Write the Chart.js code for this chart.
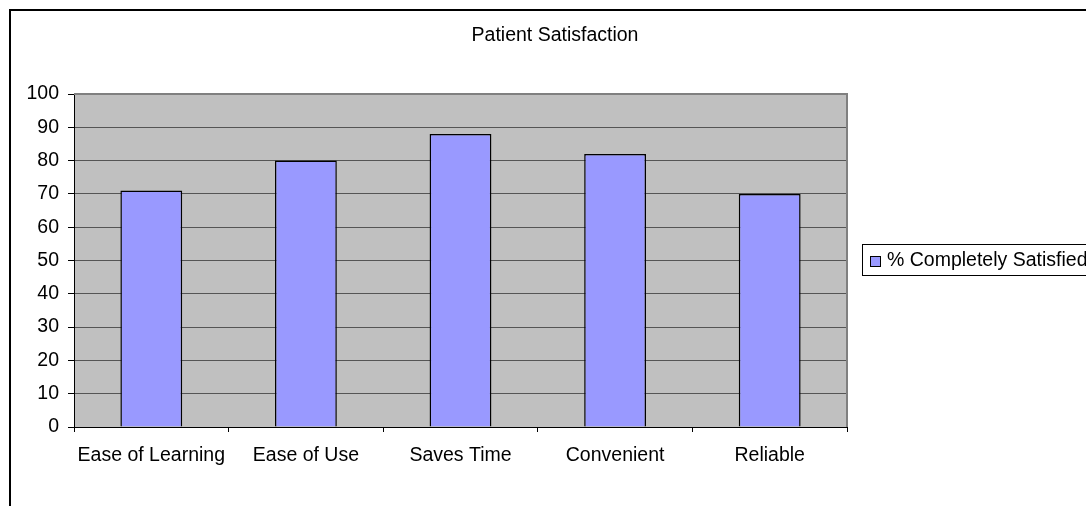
<!DOCTYPE html>
<html>
<head>
<meta charset="utf-8">
<script src="https://cdn.jsdelivr.net/npm/chart.js@4.4.0/dist/chart.umd.min.js"></script>
<style>
  html, body { margin: 0; padding: 0; background: #fff; overflow: hidden; }
  #wrap { width: 1086px; height: 506px; overflow: hidden; }
</style>
</head>
<body>
<div id="wrap"><canvas id="chart" width="1110" height="520"></canvas></div>
<script>
const categories = ['Ease of Learning', 'Ease of Use', 'Saves Time', 'Convenient', 'Reliable'];
const satisfied = [71, 80, 88, 82, 70];
const seriesLabel = '% Completely Satisfied';
const chartTitle = 'Patient Satisfaction';

const FONT = '"Liberation Sans", Arial, sans-serif';
const SIZE = 19.5;

// white page, grey plot area and the outer frame
const frame = {
    id: 'frame',
    beforeDraw(chart) {
        const { ctx, chartArea: a } = chart;
        ctx.save();
        ctx.fillStyle = '#fff';
        ctx.fillRect(0, 0, chart.width, chart.height);
        ctx.fillStyle = '#C0C0C0';
        ctx.fillRect(a.left, a.top, a.right - a.left, a.bottom - a.top);
        ctx.strokeStyle = '#000';
        ctx.lineWidth = 2;
        ctx.strokeRect(10, 10, 1090, 600);
        ctx.restore();
    },
    afterDatasetsDraw(chart) {
        const { ctx, chartArea: a } = chart;
        ctx.save();
        ctx.strokeStyle = '#808080';
        ctx.lineWidth = 2;
        ctx.beginPath();
        ctx.moveTo(a.left, a.top);
        ctx.lineTo(a.right, a.top);
        ctx.lineTo(a.right, a.bottom);
        ctx.stroke();
        ctx.restore();
    }
};

// Excel-style boxed legend on the right
const boxLegend = {
    id: 'boxLegend',
    afterDraw(chart) {
        const { ctx } = chart;
        const ds = chart.data.datasets[0];
        ctx.save();
        ctx.strokeStyle = '#000';
        ctx.lineWidth = 1;
        ctx.strokeRect(862.5, 244.5, 400, 31);
        ctx.fillStyle = ds.backgroundColor;
        ctx.fillRect(870.5, 256.5, 10, 10);
        ctx.strokeRect(870.5, 256.5, 10, 10);
        ctx.fillStyle = '#000';
        ctx.font = SIZE + 'px ' + FONT;
        ctx.textBaseline = 'middle';
        ctx.fillText(ds.label, 887, 261);
        ctx.restore();
    }
};

new Chart(document.getElementById('chart'), {
    type: 'bar',
    data: {
        labels: categories,
        datasets: [{
            label: seriesLabel,
            data: satisfied,
            backgroundColor: '#9999FF',
            borderColor: '#000',
            borderWidth: 1.5,
            categoryPercentage: 0.4,
            barPercentage: 1
        }]
    },
    options: {
        responsive: false,
        animation: false,
        layout: { padding: 0 },
        plugins: {
            legend: { display: false },
            tooltip: { enabled: false },
            title: {
                display: true,
                text: chartTitle,
                color: '#000',
                font: { family: FONT, size: SIZE, weight: 'normal' },
                padding: { top: 23.8, bottom: 46.8 }
            }
        },
        scales: {
            x: {
                afterFit(scale) { scale.height = 93; },
                grid: {
                    offset: true,
                    drawOnChartArea: false,
                    tickLength: 5,
                    tickColor: '#000'
                },
                border: { color: '#000', width: 1 },
                ticks: {
                    color: '#000',
                    padding: 12,
                    maxRotation: 0,
                    font: { family: FONT, size: SIZE }
                }
            },
            y: {
                min: 0,
                max: 100,
                afterFit(scale) { scale.width = 74; },
                grid: {
                    color: '#555',
                    tickColor: '#000',
                    tickLength: 6
                },
                border: { color: '#000', width: 1 },
                ticks: {
                    stepSize: 10,
                    color: '#000',
                    padding: 9,
                    font: { family: FONT, size: SIZE }
                }
            },
            // empty axis that reserves the space where the legend sits
            side: {
                type: 'linear',
                position: 'right',
                afterFit(scale) { scale.width = 263; },
                grid: { display: false },
                border: { display: false },
                ticks: { display: false }
            }
        }
    },
    plugins: [frame, boxLegend]
});
</script>
</body>
</html>
